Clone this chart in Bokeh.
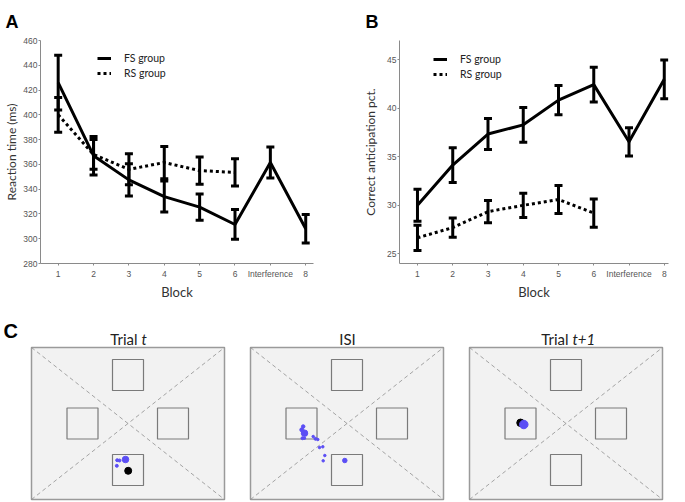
from bokeh.plotting import figure
from bokeh.layouts import row, column
from bokeh.models import Range1d, FixedTicker
from bokeh.embed import file_html
from bokeh.resources import INLINE
from bokeh.core.properties import value

# ---------------- data ----------------
blocks = [1, 2, 3, 4, 5, 6, 7, 8]
block_labels = ["1", "2", "3", "4", "5", "6", "Interference", "8"]
rs_blocks = [1, 2, 3, 4, 5, 6]

rt_ticks = [280, 300, 320, 340, 360, 380, 400, 420, 440, 460]
rt_fs = [426, 367, 347.5, 334, 325.5, 311.5, 361.5, 308]
rt_fs_err = [22, 15.5, 13, 12.5, 10.5, 12, 12.5, 11.5]
rt_rs = [400, 368, 356, 361.5, 355, 353.5]
rt_rs_err = [14, 12, 12.5, 13, 11, 11]

ca_ticks = [25, 30, 35, 40, 45]
ca_fs = [30.0, 34.15, 37.35, 38.3, 40.85, 42.45, 36.55, 43.0]
ca_fs_err = [1.65, 1.8, 1.6, 1.8, 1.5, 1.8, 1.45, 2.0]
ca_rs = [26.65, 27.7, 29.35, 30.0, 30.6, 29.2]
ca_rs_err = [1.3, 1.0, 1.15, 1.25, 1.45, 1.45]

# panel C: schematic display (display units)
display_w, display_h = 193, 152
square_x = [96.5, 51, 141.5, 96.5]
square_y = [124.5, 76, 76, 29.5]

trialt_gaze_x = [85.7, 88, 85.3, 94]
trialt_gaze_y = [39.3, 39, 33.7, 40]
trialt_gaze_s = [3, 3, 3, 6.5]
trialt_target_x = [96.7]
trialt_target_y = [28.7]

isi_gaze_x = [52.7, 51.3, 54, 52, 54, 62.7, 65, 67.3, 69, 72.3, 74.3, 72.7, 94.3]
isi_gaze_y = [73, 69.7, 66.3, 61.3, 61.3, 63, 60.7, 60, 52, 52.7, 44, 38.7, 39]
isi_gaze_s = [3.5, 4, 6.5, 3, 2.5, 2.5, 3, 2.5, 2.5, 2.5, 2.5, 2.5, 4.5]

t1_target_x = [51]
t1_target_y = [76.7]
t1_gaze_x = [54.3]
t1_gaze_y = [75]

# ---------------- styles ----------------
AX_COL = "#8a8a8a"
TICK_COL = "#555555"
LAB_COL = "#333333"
BLUE = "#5b4ef5"


def style_axes(p, yticks, ylabel, ylab_standoff):
    p.outline_line_color = None
    p.xgrid.visible = False
    p.ygrid.visible = False
    p.xaxis.ticker = FixedTicker(ticks=blocks)
    p.xaxis.major_label_overrides = {b: l for b, l in zip(blocks, block_labels)}
    p.yaxis.ticker = FixedTicker(ticks=yticks)
    for ax in (p.xaxis[0], p.yaxis[0]):
        ax.axis_line_color = AX_COL
        ax.major_tick_line_color = AX_COL
        ax.major_tick_out = 2
        ax.major_tick_in = 0
        ax.minor_tick_line_color = None
        ax.major_label_text_font = "Liberation Sans"
        ax.major_label_text_font_size = "8.5px"
        ax.major_label_text_color = TICK_COL
        ax.axis_label_text_font = "Lato"
        ax.axis_label_text_font_style = "normal"
        ax.axis_label_text_color = LAB_COL
    p.xaxis.axis_label = "Block"
    p.xaxis.axis_label_text_font_size = "13px"
    p.xaxis.major_label_standoff = 3
    p.xaxis.axis_label_standoff = 2
    p.yaxis.axis_label = ylabel
    p.yaxis.axis_label_text_font_size = "12px"
    p.yaxis.major_label_standoff = 1
    p.yaxis.axis_label_standoff = ylab_standoff


def draw_series(p, fs, fs_err, rs, rs_err):
    p.line(blocks, fs, line_width=3, color="black", line_join="round",
           legend_label="FS group")
    p.line(rs_blocks, rs, line_width=3, color="black", line_dash="3 3",
           legend_label="RS group")
    for xs, m, e in ((blocks, fs, fs_err), (rs_blocks, rs, rs_err)):
        lo = [a - b for a, b in zip(m, e)]
        hi = [a + b for a, b in zip(m, e)]
        p.segment(x0=xs, y0=lo, x1=xs, y1=hi, line_width=3, color="black")
        p.scatter(xs, lo, marker="dash", size=8, line_width=3, color="black")
        p.scatter(xs, hi, marker="dash", size=8, line_width=3, color="black")


def style_legend(p, loc):
    lg = p.legend[0]
    lg.location = loc
    lg.border_line_color = None
    lg.background_fill_alpha = 0
    lg.padding = 0
    lg.margin = 0
    lg.spacing = 1
    lg.glyph_width = 14
    lg.glyph_height = 14
    lg.label_height = 14
    lg.label_standoff = 13
    lg.label_text_font = "Lato"
    lg.label_text_font_size = "10.5px"
    lg.label_text_color = "#222222"


def panel_letter(p, letter, offset):
    p.title.text = letter
    p.title.align = "left"
    p.title.offset = offset
    p.title.standoff = 17
    p.title.text_font = "Liberation Sans"
    p.title.text_font_size = "18px"
    p.title.text_font_style = "bold"
    p.title.text_color = "black"


# ---------------- panel A ----------------
pA = figure(width=340, height=302, x_range=Range1d(0.5, 8.22),
            y_range=Range1d(280, 460), output_backend="svg",
            toolbar_location=None, min_border_left=40, min_border_right=27,
            min_border_top=40, min_border_bottom=39)
style_axes(pA, rt_ticks, "Reaction time (ms)", 1)
draw_series(pA, rt_fs, rt_fs_err, rt_rs, rt_rs_err)
style_legend(pA, (57, 183))
panel_letter(pA, "A", -35)

# ---------------- panel B ----------------
pB = figure(width=337, height=302, x_range=Range1d(0.49, 8.12),
            y_range=Range1d(24, 47), output_backend="svg",
            toolbar_location=None, min_border_left=59, min_border_right=9,
            min_border_top=40, min_border_bottom=39)
style_axes(pB, ca_ticks, "Correct anticipation pct.", 6)
draw_series(pB, ca_fs, ca_fs_err, ca_rs, ca_rs_err)
style_legend(pB, (34, 182))
panel_letter(pB, "B", -34)


# ---------------- panel C ----------------
def screen_panel(width, left_pad, right_pad):
    p = figure(width=width, height=200,
               x_range=Range1d(-left_pad, display_w + right_pad),
               y_range=Range1d(-3, display_h + 45), output_backend="svg",
               toolbar_location=None, x_axis_location=None,
               y_axis_location=None, min_border=0)
    p.xgrid.visible = False
    p.ygrid.visible = False
    p.outline_line_color = None
    p.quad(left=[0], right=[display_w], bottom=[0], top=[display_h],
           fill_color="#f2f2f2", line_color="#9a9a9a", line_width=1.5)
    p.segment(x0=[0, 0], y0=[0, display_h], x1=[display_w, display_w],
              y1=[display_h, 0], line_color="#8f8f8f", line_width=0.8,
              line_dash="4 3")
    p.rect(x=square_x, y=square_y, width=31, height=31, fill_alpha=0,
           line_color="#7a7a7a", line_width=1.2)
    return p


def title_part(p, x, text, align, style="normal"):
    p.text(x=[x], y=[display_h + 9], text=[text], text_font=value("Lato"),
           text_font_size="15px", text_font_style=style, text_align=align,
           text_baseline="alphabetic", text_color="#222222")


c1 = screen_panel(237, 31, 13)
c1.scatter(trialt_gaze_x, trialt_gaze_y, size=trialt_gaze_s, color=BLUE)
c1.scatter(trialt_target_x, trialt_target_y, size=7, color="black")
title_part(c1, 106, "Trial", "right")
title_part(c1, 110, "t", "left", "italic")
c1.text(x=[-28], y=[display_h + 17], text=["C"],
        text_font=value("Liberation Sans"), text_font_size="20px",
        text_font_style="bold", text_baseline="alphabetic",
        text_color="black")

c2 = screen_panel(219, 13, 13)
c2.scatter(isi_gaze_x, isi_gaze_y, size=isi_gaze_s, color=BLUE)
title_part(c2, 97, "ISI", "center")

c3 = screen_panel(221, 13, 15)
c3.scatter(t1_target_x, t1_target_y, size=7.5, color="black")
c3.scatter(t1_gaze_x, t1_gaze_y, size=8.5, color=BLUE)
title_part(c3, 99, "Trial", "right")
title_part(c3, 103, "t+1", "left", "italic")

layout = column(row(pA, pB), row(c1, c2, c3))

open("out.html", "w").write(file_html(layout, INLINE))
